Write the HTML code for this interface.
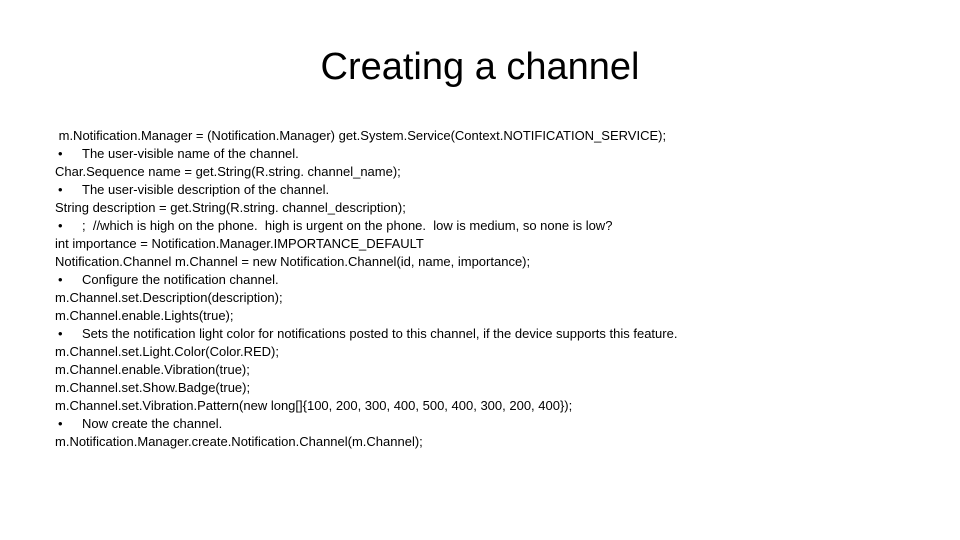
<!DOCTYPE html>
<html><head><meta charset="utf-8"><style>
body{margin:0;width:960px;height:540px;background:#fff;overflow:hidden;font-family:"Liberation Sans",sans-serif;color:#000}
.t{position:absolute;top:42px;left:0;width:960px;text-align:center;font-size:38px;line-height:50px}
.b{position:absolute;left:55px;top:127px;font-size:13px;line-height:18px;white-space:nowrap}
.l{height:18px}
.u{position:relative;padding-left:27px}
.u:before{content:"•";position:absolute;left:3px}
</style></head><body>
<div class="t">Creating a channel</div>
<div class="b"><div class="l">&nbsp;m.Notification.Manager = (Notification.Manager) get.System.Service(Context.NOTIFICATION_SERVICE);</div><div class="l u">The user-visible name of the channel.</div><div class="l">Char.Sequence name = get.String(R.string. channel_name);</div><div class="l u">The user-visible description of the channel.</div><div class="l">String description = get.String(R.string. channel_description);</div><div class="l u">; &nbsp;//which is high on the phone. &nbsp;high is urgent on the phone. &nbsp;low is medium, so none is low?</div><div class="l">int importance = Notification.Manager.IMPORTANCE_DEFAULT</div><div class="l">Notification.Channel m.Channel = new Notification.Channel(id, name, importance);</div><div class="l u">Configure the notification channel.</div><div class="l">m.Channel.set.Description(description);</div><div class="l">m.Channel.enable.Lights(true);</div><div class="l u">Sets the notification light color for notifications posted to this channel, if the device supports this feature.</div><div class="l">m.Channel.set.Light.Color(Color.RED);</div><div class="l">m.Channel.enable.Vibration(true);</div><div class="l">m.Channel.set.Show.Badge(true);</div><div class="l">m.Channel.set.Vibration.Pattern(new long[]{100, 200, 300, 400, 500, 400, 300, 200, 400});</div><div class="l u">Now create the channel.</div><div class="l">m.Notification.Manager.create.Notification.Channel(m.Channel);</div></div>
</body></html>
